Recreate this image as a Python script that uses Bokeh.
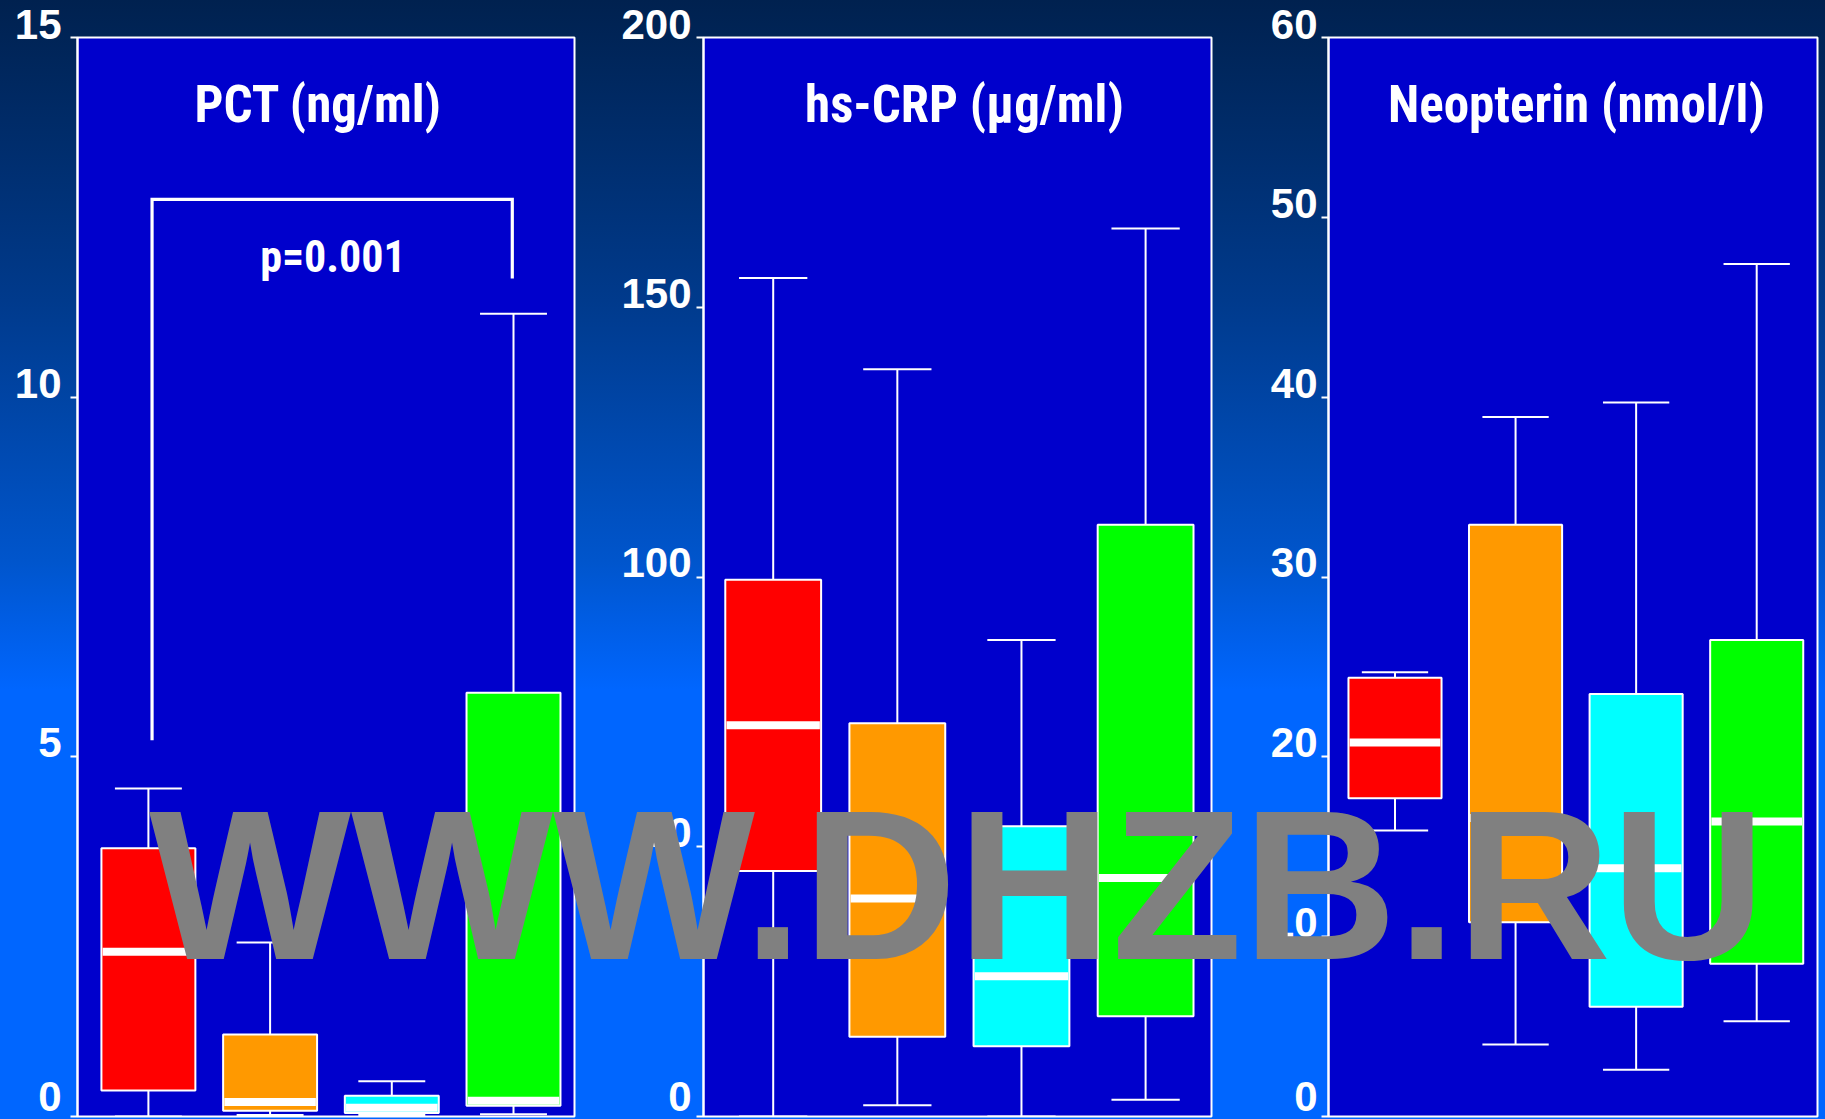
from bokeh.plotting import figure
from bokeh.models import Range1d, Label, FixedTicker, ColumnDataSource, GlobalInlineStyleSheet, Div
from bokeh.layouts import row, column
from bokeh.transform import dodge
from bokeh.embed import file_html
from bokeh.resources import INLINE

# ---------------- data ----------------
groups = [1, 2, 3, 4]
group_colors = ["#ff0000", "#ff9900", "#00ffff", "#00ff00"]

pct_low = [0.0, 0.02, 0.02, 0.03]
pct_q1 = [0.36, 0.08, 0.05, 0.15]
pct_median = [2.29, 0.20, 0.12, 0.22]
pct_q3 = [3.73, 1.14, 0.29, 5.89]
pct_high = [4.56, 2.42, 0.49, 11.16]
pct_ticks = [0, 5, 10, 15]

crp_low = [0.0, 2.1, 0.0, 3.1]
crp_q1 = [45.5, 14.8, 13.0, 18.6]
crp_median = [72.5, 40.4, 26.0, 44.2]
crp_q3 = [99.5, 72.9, 53.8, 109.7]
crp_high = [155.4, 138.5, 88.3, 164.6]
crp_ticks = [0, 50, 100, 150, 200]

neo_low = [15.9, 4.0, 2.6, 5.3]
neo_q1 = [17.7, 10.8, 6.1, 8.5]
neo_median = [20.8, 16.6, 13.8, 16.4]
neo_q3 = [24.4, 32.9, 23.5, 26.5]
neo_high = [24.7, 38.9, 39.7, 47.4]
neo_ticks = [0, 10, 20, 30, 40, 50, 60]

titles = ["PCT (ng/ml)", "hs-CRP (\u03bcg/ml)", "Neopterin (nmol/l)"]

# significance bracket (PCT panel)
bracket_x = [1.03, 1.03, 3.99, 3.99]
bracket_y = [5.23, 12.75, 12.75, 11.65]
p_text = "p=0.001"

watermark = "WWW.DHZB.RU"

# ---------------- layout geometry (page pixels) ----------------
FIG_H = 1119
FRAME_TOP = 37
FRAME_BOT = 1116

panels = [
    dict(title=titles[0], ymax=15, ticks=pct_ticks,
         data=(pct_low, pct_q1, pct_median, pct_q3, pct_high),
         fig_l=0, fig_r=596, fr_l=77, fr_r=574, c1=147.9, c4=513.0,
         title_px=318, standoff=9),
    dict(title=titles[1], ymax=200, ticks=crp_ticks,
         data=(crp_low, crp_q1, crp_median, crp_q3, crp_high),
         fig_l=596, fig_r=1240, fr_l=703, fr_r=1211, c1=772.7, c4=1145.1,
         title_px=964, standoff=5),
    dict(title=titles[2], ymax=60, ticks=neo_ticks,
         data=(neo_low, neo_q1, neo_median, neo_q3, neo_high),
         fig_l=1240, fig_r=1825, fr_l=1328, fr_r=1817, c1=1394.5, c4=1756.2,
         title_px=1576, standoff=4),
]

BOX_W = 0.772
CAP_W = 0.55
COND = "Roboto Condensed, Liberation Sans Narrow, Liberation Sans"

figs = []
for i, pn in enumerate(panels):
    sp = (pn["c4"] - pn["c1"]) / 3.0
    px2x = lambda px, c1=pn["c1"], sp=sp: 1 + (px - c1) / sp
    ymax = pn["ymax"]
    py2y = lambda py, ymax=ymax: ymax * (FRAME_BOT - py) / (FRAME_BOT - FRAME_TOP)

    p = figure(width=pn["fig_r"] - pn["fig_l"], height=FIG_H,
               x_range=Range1d(px2x(pn["fr_l"]), px2x(pn["fr_r"])),
               y_range=Range1d(0, ymax),
               output_backend="svg", toolbar_location=None,
               x_axis_location=None,
               min_border_left=pn["fr_l"] - pn["fig_l"],
               min_border_right=pn["fig_r"] - pn["fr_r"],
               min_border_top=FRAME_TOP,
               min_border_bottom=FIG_H - FRAME_BOT,
               background_fill_color="#0000cc", border_fill_color=None,
               outline_line_color="white", outline_line_width=2)
    p.grid.visible = False
    ax = p.yaxis[0]
    ax.ticker = FixedTicker(ticks=pn["ticks"])
    ax.minor_tick_line_color = None
    ax.major_tick_out = 7
    ax.major_tick_in = 0
    ax.major_tick_line_color = "white"
    ax.major_tick_line_width = 2
    ax.axis_line_color = "white"
    ax.axis_line_width = 2
    ax.major_label_standoff = pn["standoff"]
    ax.major_label_text_font = "Liberation Sans"
    ax.major_label_text_font_style = "bold"
    ax.major_label_text_font_size = "42px"
    ax.major_label_text_color = "white"
    ax.major_label_text_line_height = 0.6
    # trailing empty line lifts each label slightly above its tick, as in the original
    ax.major_label_overrides = {t: (f"{t}" if t == 0 else f"{t}\n") for t in pn["ticks"]}

    low, q1, med, q3, high = pn["data"]
    src = ColumnDataSource(dict(x=groups, low=low, q1=q1, med=med, q3=q3,
                                high=high, color=group_colors))
    # whiskers
    p.segment(x0="x", y0="q3", x1="x", y1="high", source=src,
              line_color="white", line_width=2)
    p.segment(x0="x", y0="low", x1="x", y1="q1", source=src,
              line_color="white", line_width=2)
    p.segment(x0=dodge("x", -CAP_W / 2), y0="high", x1=dodge("x", CAP_W / 2),
              y1="high", source=src, line_color="white", line_width=2)
    p.segment(x0=dodge("x", -CAP_W / 2), y0="low", x1=dodge("x", CAP_W / 2),
              y1="low", source=src, line_color="white", line_width=2)
    # boxes
    p.vbar(x="x", width=BOX_W, bottom="q1", top="q3", source=src,
           fill_color="color", line_color="white", line_width=2)
    # medians
    p.rect(x="x", y="med", width=BOX_W - 0.02, height=8, height_units="screen",
           source=src, fill_color="white", line_color=None)

    if i == 0:
        p.line(x=bracket_x, y=bracket_y, line_color="white", line_width=3.2,
               line_join="miter")
        p.add_layout(Label(x=px2x(332.5), y=py2y(256), text=p_text,
                           text_font=COND, text_font_style="bold",
                           text_font_size="44px", text_color="white",
                           text_align="center", text_baseline="middle"))

    p.add_layout(Label(x=px2x(pn["title_px"]), y=py2y(103.5), text=pn["title"],
                       text_font=COND, text_font_style="bold",
                       text_font_size="51px", text_color="white",
                       text_align="center", text_baseline="middle"))
    figs.append(p)

css = GlobalInlineStyleSheet(css="""
html { min-height: 100%;
  background: linear-gradient(to bottom, #00214f 0px, #003a8c 300px, #0055cc 560px, #0066ff 690px, #0066ff 100%) fixed; }
body { background: transparent; overflow: hidden; }
""")

wm = Div(text=('<div style="font: bold 214px/1 \'Liberation Sans\', sans-serif; '
               'color: #808080; white-space: nowrap;">' + watermark + '</div>'),
         width=1720, height=235,
         styles={"position": "absolute", "left": "144px", "top": "773px",
                 "z-index": "100", "pointer-events": "none"})

layout = column(row(*figs, spacing=0), wm, spacing=0, stylesheets=[css])

open("out.html", "w").write(file_html(layout, INLINE))
